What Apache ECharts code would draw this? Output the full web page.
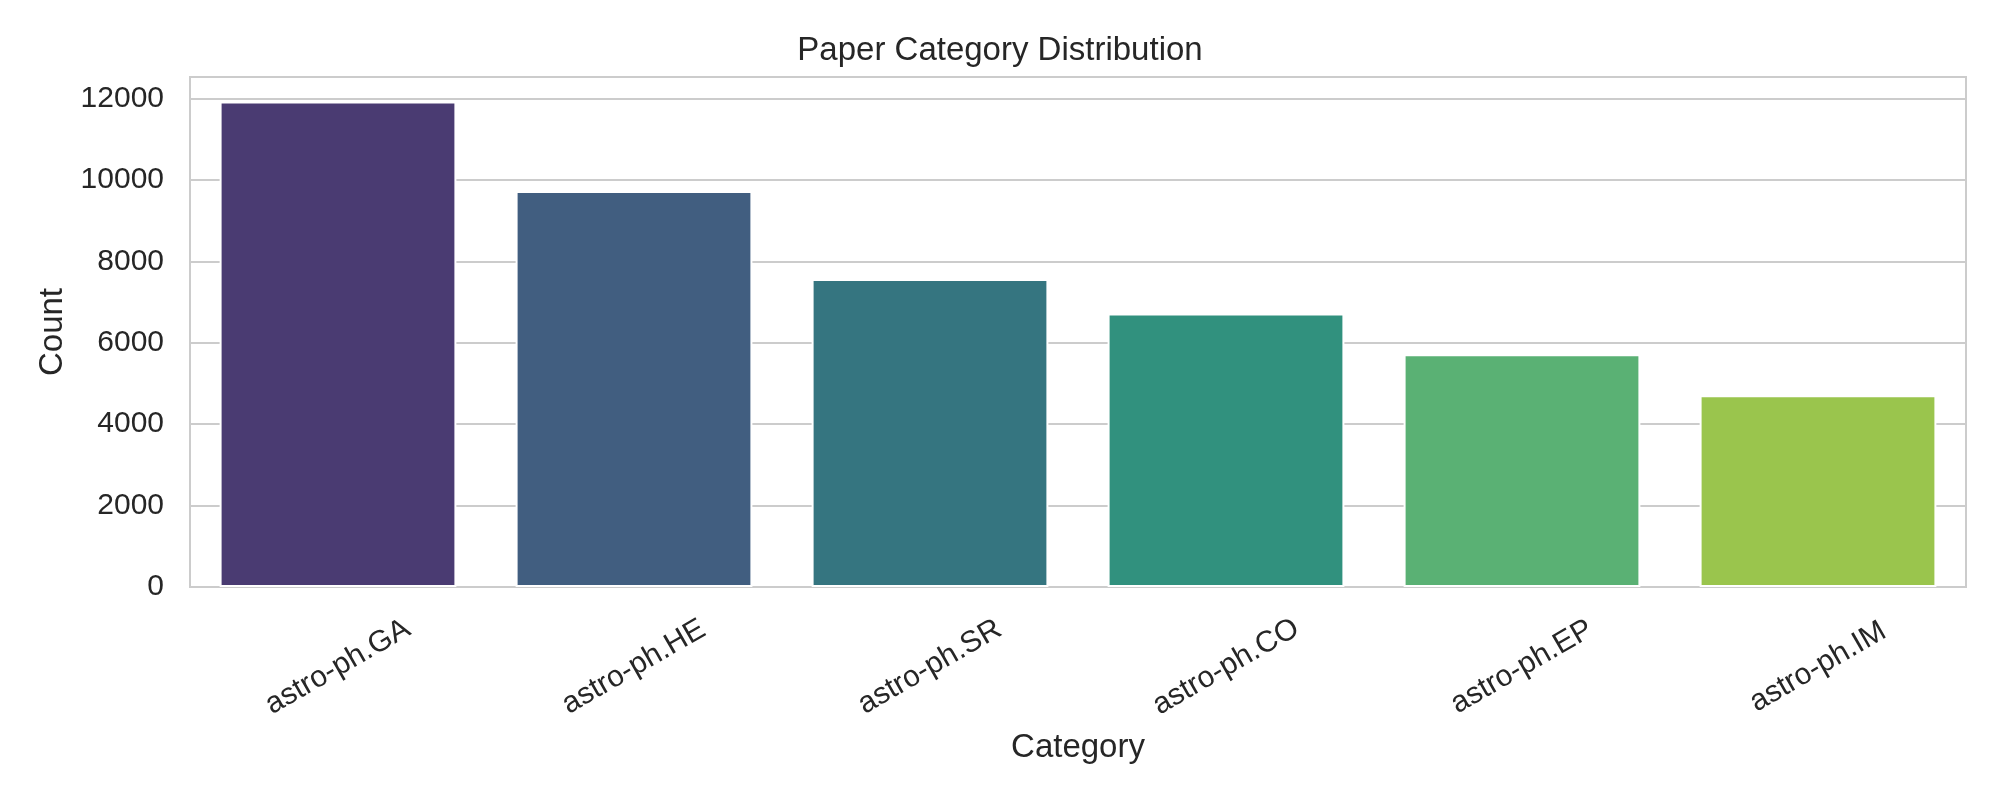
<!DOCTYPE html>
<html>
<head>
<meta charset="utf-8">
<title>Paper Category Distribution</title>
<script src="https://cdn.jsdelivr.net/npm/echarts@6/dist/echarts.min.js"></script>
<style>
    html, body { margin: 0; padding: 0; background: #ffffff; }
    #chart { width: 2000px; height: 800px; }
</style>
</head>
<body>
<div id="chart"></div>
<script>
// data
const categories = ['astro-ph.GA', 'astro-ph.HE', 'astro-ph.SR', 'astro-ph.CO', 'astro-ph.EP', 'astro-ph.IM'];
const counts = [11930, 9730, 7570, 6720, 5720, 4710];
const yTicks = [0, 2000, 4000, 6000, 8000, 10000, 12000];

// viridis, a bit desaturated like seaborn does
const barColors = ['#4a3b72', '#415e80', '#357580', '#31917e', '#5ab174', '#9ac54d'];

const textColor = '#262626';
const fontFamily = 'Liberation Sans, Arial, sans-serif';

const myEchart = echarts.init(document.getElementById('chart'), null, { renderer: 'canvas' });

const option = {
    backgroundColor: '#ffffff',
    animation: false,
    title: {
        text: 'Paper Category Distribution',
        left: 'center',
        top: 29,
        textStyle: { color: textColor, fontFamily, fontSize: 33, fontWeight: 'normal' }
    },
    grid: {
        left: 190,
        right: 34,
        top: 77,
        bottom: 213,
        show: true,
        borderColor: '#cccccc',
        borderWidth: 2,
        containLabel: false
    },
    xAxis: {
        type: 'category',
        data: categories,
        name: 'Category',
        nameLocation: 'middle',
        nameGap: 144,
        nameTextStyle: { color: textColor, fontFamily, fontSize: 33 },
        axisLine: { show: false },
        axisTick: { show: false },
        splitLine: { show: false },
        axisLabel: {
            rotate: 30,
            align: 'center',
            verticalAlign: 'middle',
            margin: 80,
            color: textColor,
            fontFamily,
            fontSize: 30
        }
    },
    yAxis: {
        type: 'value',
        min: yTicks[0],
        max: 12530,
        interval: yTicks[1] - yTicks[0],
        name: 'Count',
        nameLocation: 'middle',
        nameGap: 119,
        nameTextStyle: { color: textColor, fontFamily, fontSize: 33 },
        axisLine: { show: false },
        axisTick: { show: false },
        splitLine: { show: true, lineStyle: { color: '#cccccc', width: 2 } },
        axisLabel: {
            showMaxLabel: false,
            margin: 26,
            color: textColor,
            fontFamily,
            fontSize: 30,
            formatter: (v) => String(v)
        }
    },
    series: [{
        type: 'bar',
        barCategoryGap: '20%',
        data: counts.map((v, i) => ({
            value: v,
            itemStyle: { color: barColors[i] }
        })),
        itemStyle: { borderColor: '#ffffff', borderWidth: 2 }
    }]
};

myEchart.setOption(option);
</script>
</body>
</html>
